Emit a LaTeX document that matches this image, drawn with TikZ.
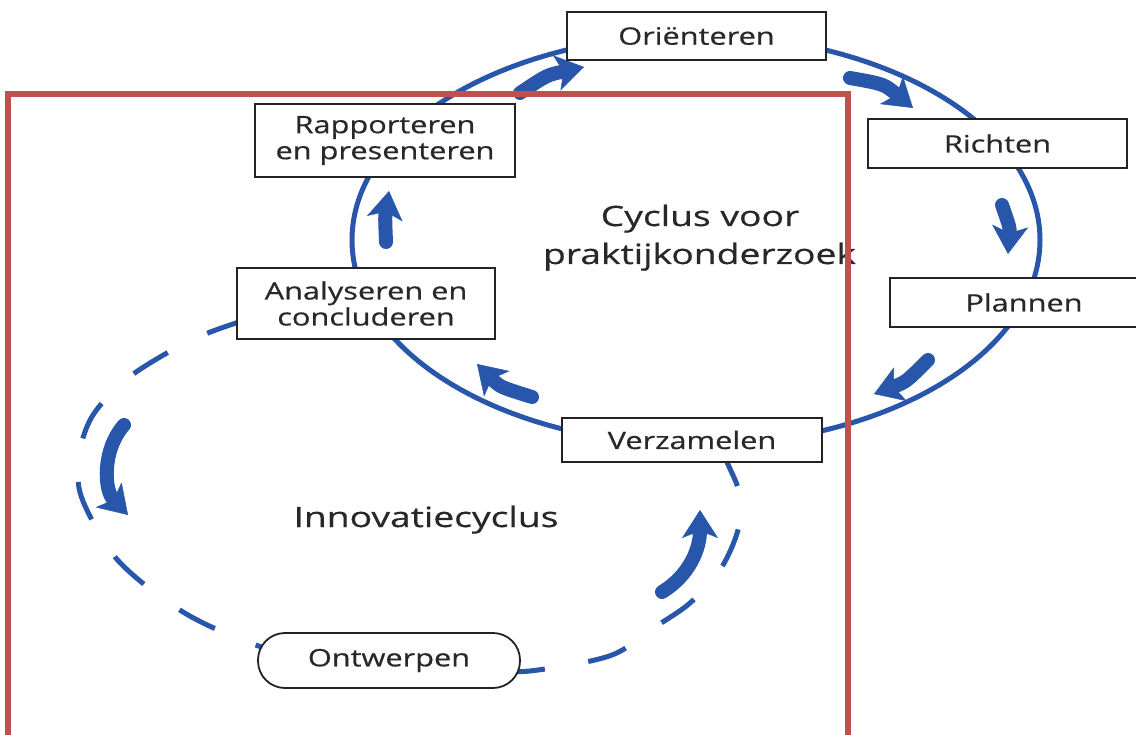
\documentclass[tikz,border=0pt]{standalone}
\usepackage{fontspec}
\setmainfont{Open Sans}
\newfontfamily\boxfont[FakeStretch=1.28,FakeBold=0.6]{Open Sans}
\newfontfamily\bigfont[FakeStretch=1.33,FakeBold=0.6]{Open Sans}
\usetikzlibrary{arrows.meta}
\definecolor{cycblue}{RGB}{40,86,170}
\definecolor{redframe}{RGB}{192,80,77}
\definecolor{txtgray}{RGB}{40,40,40}
\definecolor{boxgray}{RGB}{35,35,35}
\begin{document}
\begin{tikzpicture}[x=1pt,y=-1pt,
  stepbox/.style={draw=boxgray, line width=2.4pt, fill=white, inner sep=0pt, text=txtgray,
    font=\boxfont\fontsize{24}{26}\selectfont, align=center},
  bigtext/.style={text=txtgray, font=\bigfont\fontsize{28}{38}\selectfont, inner sep=0pt, anchor=base},
  cycline/.style={draw=cycblue, line width=5pt},
  dashline/.style={draw=cycblue, line width=5pt, dash pattern=on 40pt off 44pt},
  blockarrow/.style={draw=cycblue, line width=14pt, line cap=round,
    -{Stealth[length=28pt,width=36pt,inset=7pt,line width=0.5pt]}},
  frameline/.style={draw=redframe, line width=6pt}
]
\useasboundingbox (0,0) rectangle (1136,735);

% solid research cycle
\draw[cycline] (696,240) ellipse [x radius=344, y radius=205];

% dashed innovation cycle
\draw[dashline] plot[smooth, tension=0.55] coordinates {(245,320) (203,335) (160,357) (123,382) (93,415) (80,450) (79,488) (93,522) (115,557) (145,585) (183,612) (223,632) (280,652) (390,670) (500,672) (545,669) (612,655) (655,627) (690,603) (720,570) (738,530) (740,495) (727,462) (718,440)};

% arrow end points
\coordinate (a1s) at (520,93);   \coordinate (a1e) at (584,67);
\coordinate (a2s) at (850,78);   \coordinate (a2e) at (913,108);
\coordinate (a3s) at (1002,205); \coordinate (a3e) at (1008,254);
\coordinate (a4s) at (928,360);  \coordinate (a4e) at (874,394);
\coordinate (a5s) at (532,397);  \coordinate (a5e) at (477,364);
\coordinate (a6s) at (386,242);  \coordinate (a6e) at (389,191);
\coordinate (a7s) at (124,425);  \coordinate (a7e) at (128,515);
\coordinate (a8s) at (662,592);  \coordinate (a8e) at (700,510);

\draw[blockarrow] (a1s) .. controls (547,75) .. (a1e);
\draw[blockarrow] (a2s) .. controls (884,84) .. (a2e);
\draw[blockarrow] (a3s) .. controls (1010,228) .. (a3e);
\draw[blockarrow] (a4s) .. controls (906,382) .. (a4e);
\draw[blockarrow] (a5s) .. controls (500,387) .. (a5e);
\draw[blockarrow] (a6s) .. controls (385,217) .. (a6e);
\draw[blockarrow] (a7s) .. controls (102,450) and (104,490) .. (a7e);
\draw[blockarrow] (a8s) .. controls (690,575) and (700,548) .. (a8e);

% step boxes
\node[stepbox, minimum width=259pt, minimum height=48pt] (ori) at (696.5,36) {Oriënteren};
\node[stepbox, minimum width=259pt, minimum height=49pt] (richt) at (997.5,143.5) {Richten};
\node[stepbox, minimum width=268pt, minimum height=49pt] (plan) at (1024,302.5) {Plannen};
\node[stepbox, minimum width=260pt, minimum height=44pt] (verz) at (692,440) {Verzamelen};
\node[stepbox, minimum width=258pt, minimum height=71pt] (anal) at (366,303.5) {Analyseren en\\concluderen};
\node[stepbox, minimum width=260pt, minimum height=73pt] (rapp) at (385,140.5) {Rapporteren\\en presenteren};
\node[stepbox, line width=1.8pt, rounded corners=27pt, minimum width=262pt, minimum height=55pt] (ontw) at (389,660.5) {Ontwerpen};

% cycle titles
\node[bigtext] (cyc1) at (700,226) {Cyclus voor};
\node[bigtext] (cyc2) at (699.5,264) {praktijkonderzoek};
\node[bigtext] (inno) at (426,527) {Innovatiecyclus};

% red frame
\draw[frameline] (8,745) -- (8,94) -- (848,94) -- (848,745);
\end{tikzpicture}
\end{document}
